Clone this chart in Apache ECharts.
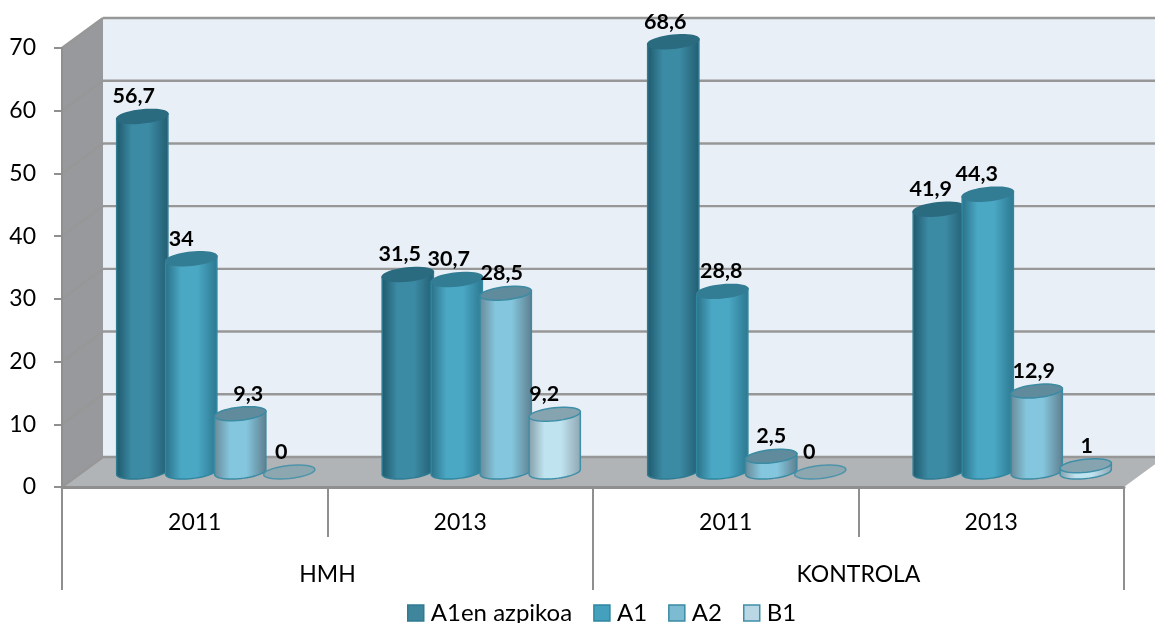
<!DOCTYPE html>
<html><head><meta charset="utf-8">
<style>html,body{margin:0;padding:0;background:#fff}#c{width:1155px;height:623px}</style>
<script src="https://cdn.jsdelivr.net/npm/echarts@6/dist/echarts.min.js"></script>
</head><body><div id="c"></div>
<script>
const years = ['2011','2013','2011','2013'];
const groups = ['HMH','KONTROLA'];
const valueTicks = [0,10,20,30,40,50,60,70];
const a1enAzpikoa = [56.7,31.5,68.6,41.9];
const a1 = [34,30.7,28.8,44.3];
const a2 = [9.3,28.5,2.5,12.9];
const b1 = [0,9.2,0,1];

const FONT='Lato';
const AXIS='#8f8f8f';
const WALL={dx:41,dy:-30}, BAR={dx:21,dy:-15};
const styles=[
 {name:'A1en azpikoa',values:a1enAzpikoa,edge:'#1f5a6d',mid:'#3c8ba5',edge2:'#235e72',top:'#2b6b80',stroke:'#2f7b92',legend:'#3f859c',nudge:[-8.5,-8,-8,-8]},
 {name:'A1',values:a1,edge:'#2b7188',mid:'#4aa8c5',edge2:'#2d7890',top:'#337d94',stroke:'#2f87a0',legend:'#44a0bd',nudge:[-10,-8,-1,-11]},
 {name:'A2',values:a2,edge:'#6a8a99',mid:'#84c6dd',edge2:'#5f8090',top:'#5f8b9c',stroke:'#3a8ba3',legend:'#7dbbd2',nudge:[8,-4,0,-3]},
 {name:'B1',values:b1,edge:'#84a0ab',mid:'#c0e3f0',edge2:'#8fa8b3',top:'#86a4af',stroke:'#3f8fa8',legend:'#b9d7e4',nudge:[-8,-10.5,-11,1]}
];
const SLOT=0.1845, HALF=0.097, RY=6.5, TILT=6*Math.PI/180;

function renderWalls(params,api){
  const v=api.value(1), p=api.coord([0,v]), band=api.size([1,0])[0];
  const xL=p[0]-band/2, xR=xL+band*years.length, y=p[1];
  const c=[];
  const line=(x1,y1,x2,y2)=>({type:'line',shape:{x1,y1,x2,y2},style:{stroke:'#979797',lineWidth:2.4}});
  if(params.dataIndex===0){
    const y70=api.coord([0,valueTicks[valueTicks.length-1]])[1];
    c.push({type:'polygon',shape:{points:[[xL+WALL.dx,y70+WALL.dy],[xR+WALL.dx,y70+WALL.dy],[xR+WALL.dx,y+WALL.dy],[xL+WALL.dx,y+WALL.dy]]},style:{fill:'#e8eff6'}});
    c.push({type:'polygon',shape:{points:[[xL,y70],[xL+WALL.dx,y70+WALL.dy],[xL+WALL.dx,y+WALL.dy],[xL,y]]},style:{fill:'#97999c'}});
    c.push({type:'polygon',shape:{points:[[xL,y],[xR,y],[xR+WALL.dx,y+WALL.dy],[xL+WALL.dx,y+WALL.dy]]},style:{fill:'#b1b4b7'}});
  }
  c.push(line(xL,y,xL+WALL.dx,y+WALL.dy));
  c.push(line(xL+WALL.dx,y+WALL.dy,xR+WALL.dx,y+WALL.dy));
  return {type:'group',children:c};
}
function makeBarRender(si){
  const st=styles[si];
  return function(params,api){
    const cat=api.value(0), v=api.value(1);
    const band=api.size([1,0])[0];
    const base=api.coord([cat,0]), top=api.coord([cat,v]);
    const cx=base[0]+BAR.dx+(si-1.5)*SLOT*band;
    const yb=base[1]+BAR.dy, yt=top[1]+BAR.dy, rx=HALF*band;
    const cos=Math.cos(TILT), sin=Math.sin(TILT);
    const ell=(y,a)=>[cx+rx*Math.cos(a)*cos+RY*Math.sin(a)*sin, y-rx*Math.cos(a)*sin+RY*Math.sin(a)*cos];
    const fill={type:'linear',x:cx-rx,y:0,x2:cx+rx,y2:0,global:true,colorStops:[
      {offset:0,color:st.edge},{offset:.3,color:st.mid},{offset:.62,color:st.mid},{offset:1,color:st.edge2}]};
    const c=[];
    if(v>0){
      const pts=[];
      pts.push(ell(yt,Math.PI));
      for(let i=0;i<=28;i++) pts.push(ell(yb,Math.PI-Math.PI*i/28));
      pts.push(ell(yt,0));
      c.push({type:'polygon',shape:{points:pts},style:{fill:fill,stroke:st.stroke,lineWidth:1.5}});
    }
    const tp=[];
    for(let i=0;i<40;i++) tp.push(ell(yt,2*Math.PI*i/40));
    c.push({type:'polygon',shape:{points:tp},style:{fill:st.top,stroke:si>=2?st.stroke:st.top,lineWidth:1.5,opacity:v>0?1:.85}});
    c.push({type:'text',x:cx+st.nudge[cat],y:yt-20,style:{text:String(v).replace('.',','),fill:'#000',font:'bold 21.5px '+FONT,textAlign:'center',textVerticalAlign:'middle'}});
    return {type:'group',children:c};
  };
}
const series=[{
  type:'custom',name:'walls',silent:true,z:1,clip:false,xAxisIndex:0,yAxisIndex:0,
  data:valueTicks.map(v=>[0,v]),encode:{x:0,y:1},renderItem:renderWalls
}];
styles.forEach((st,si)=>series.push({
  type:'custom',name:st.name,z:2+si,clip:false,xAxisIndex:0,yAxisIndex:0,
  itemStyle:{color:st.legend},
  data:st.values.map((v,i)=>[i,v]),encode:{x:0,y:1},renderItem:makeBarRender(si)
}));
const chart=echarts.init(document.getElementById('c'),null,{renderer:'canvas'});
chart.setOption({
  animation:false,backgroundColor:'#fff',
  grid:{left:62,right:31,top:48,bottom:136,containLabel:false},
  legend:{
    show:true,left:407,top:601,itemWidth:16,itemHeight:16,itemGap:21,padding:0,
    selectedMode:false,
    textStyle:{fontFamily:FONT,fontSize:24,color:'#000',padding:[0,0,0,2]},
    data:styles.map(st=>({name:st.name,icon:'rect',itemStyle:{color:st.legend,borderColor:st.stroke,borderWidth:1.5}}))
  },
  xAxis:[
    {type:'category',data:years,position:'bottom',z:5,boundaryGap:true,
     axisLine:{show:true,lineStyle:{color:AXIS,width:3}},
     axisTick:{show:true,length:50,lineStyle:{color:AXIS,width:2}},
     axisLabel:{show:true,margin:24,interval:0,fontFamily:FONT,fontSize:23,color:'#000'},
     splitLine:{show:false}},
    {type:'category',data:groups,position:'bottom',z:5,boundaryGap:true,
     axisLine:{show:false},
     axisTick:{show:true,length:103,lineStyle:{color:AXIS,width:2}},
     axisLabel:{show:true,margin:76,interval:0,fontFamily:FONT,fontSize:23,color:'#000'},
     splitLine:{show:false}}
  ],
  yAxis:{type:'value',min:0,max:70,interval:10,z:5,
    axisLine:{show:true,lineStyle:{color:AXIS,width:2}},
    axisTick:{show:true,length:8,lineStyle:{color:AXIS,width:2}},
    axisLabel:{margin:26,fontFamily:FONT,fontSize:23,color:'#000'},
    splitLine:{show:false}},
  series:series
});
</script></body></html>
